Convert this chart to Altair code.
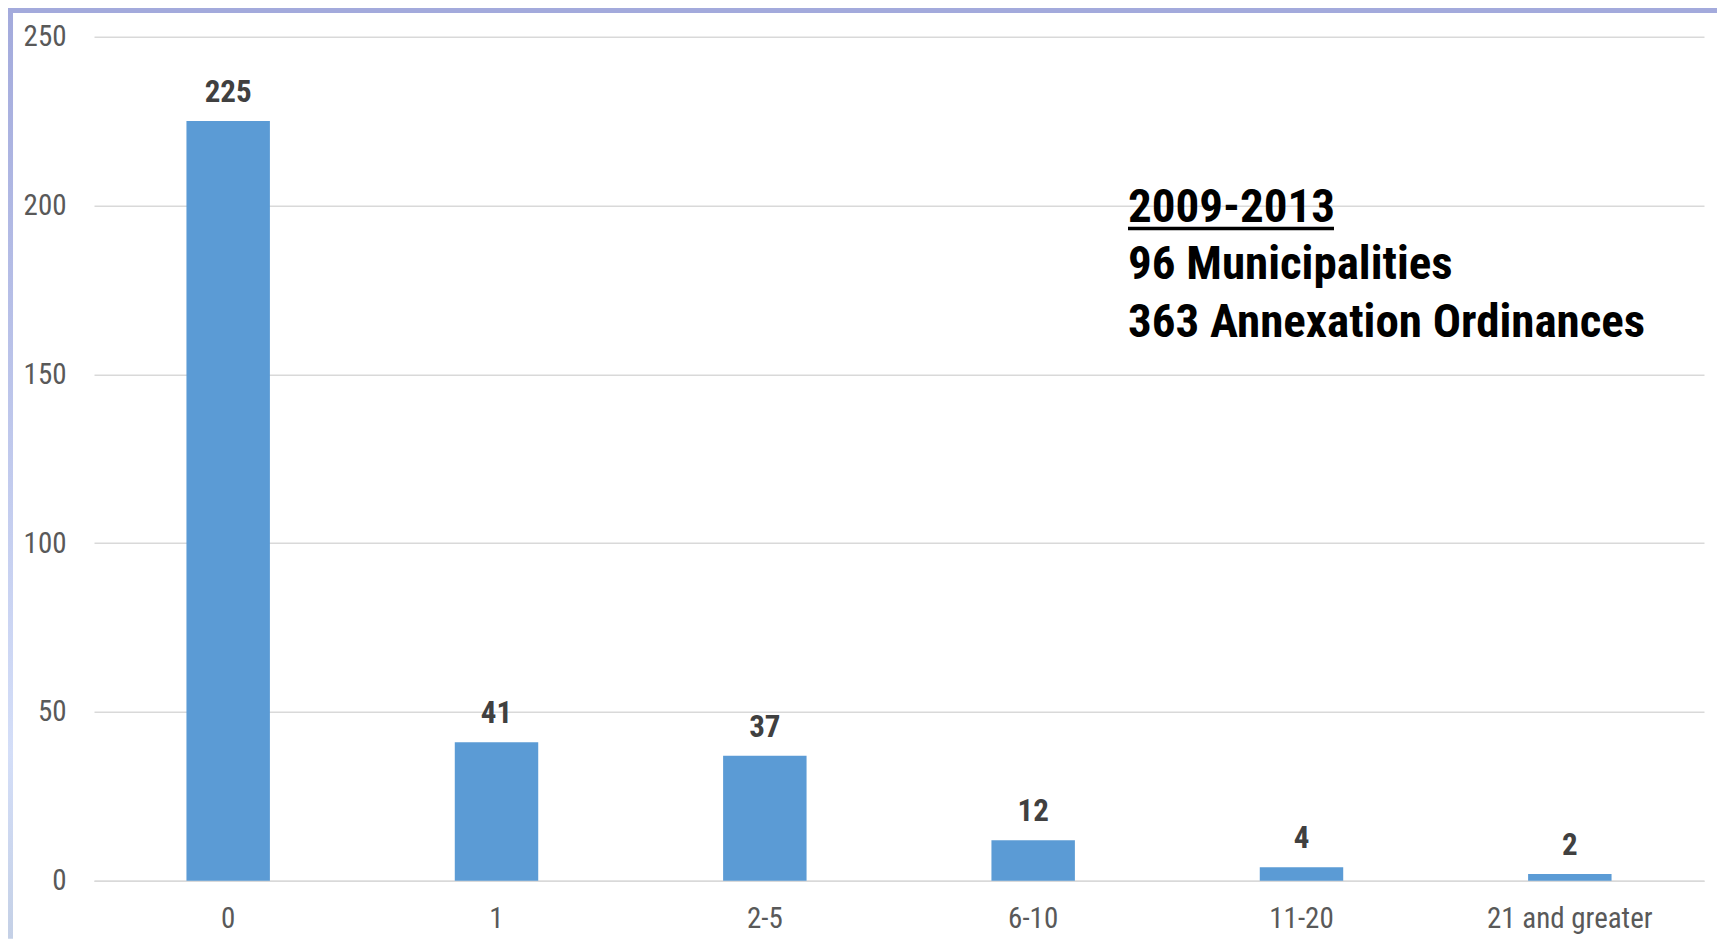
import altair as alt
import pandas as pd

categories = ["0", "1", "2-5", "6-10", "11-20", "21 and greater"]
counts = [225, 41, 37, 12, 4, 2]
y_ticks = [0, 50, 100, 150, 200, 250]
note_lines = ["2009-2013", "96 Municipalities", "363 Annexation Ordinances"]

FONT = "Roboto Condensed, Liberation Sans Narrow, DejaVu Sans Condensed, Roboto, sans-serif"
W, H = 1610, 844

df = pd.DataFrame({"cat": categories, "value": counts})

x_enc = alt.X(
    "cat:N", sort=categories, title=None,
    scale=alt.Scale(paddingInner=0.689, paddingOuter=0.3445),
    axis=alt.Axis(labelAngle=0, labelFontSize=29, labelColor="#595959", labelFont=FONT,
                  labelPadding=24, labelLimit=0, ticks=False, tickSize=0, domain=True,
                  domainColor="#d9d9d9", domainWidth=1.5, grid=False),
)
y_enc = alt.Y(
    "value:Q", title=None,
    scale=alt.Scale(domain=[0, 250], nice=False),
    axis=alt.Axis(values=y_ticks, labelFontSize=29, labelColor="#595959", labelFont=FONT,
                  labelPadding=28, ticks=False, tickSize=0, domain=False,
                  grid=True, gridColor="#d9d9d9", gridWidth=1.5),
)

base = alt.Chart(df)
bars = base.mark_bar(color="#5b9bd5").encode(x=x_enc, y=y_enc)
labels = base.mark_text(font=FONT, fontSize=31, fontWeight="bold", color="#404040",
                        baseline="alphabetic", dy=-19).encode(
    x=alt.X("cat:N", sort=categories), y="value:Q", text="value:Q")

one = pd.DataFrame({"k": [0]})
note = alt.Chart(one).mark_text(
    font=FONT, fontSize=47, fontWeight="bold", color="#000000", align="left",
    baseline="alphabetic", lineHeight=57.5,
    text="\n".join(note_lines), lineBreak="\n",
).encode(x=alt.value(1034), y=alt.value(185))
underline = alt.Chart(one).mark_rule(color="#000000", strokeWidth=3.5).encode(
    x=alt.value(1034), x2=alt.value(1240), y=alt.value(191.8))

top_stripe = alt.Chart(one).mark_rect(color="#a3aadc").encode(
    x=alt.value(-86), x2=alt.value(W + 13), y=alt.value(-28.7), y2=alt.value(-23.7))
left_stripe = alt.Chart(one).mark_rect(
    color=alt.Gradient(gradient="linear", x1=0, x2=0, y1=0, y2=1,
                       stops=[alt.GradientStop(color="#a3aadc", offset=0),
                              alt.GradientStop(color="#d4def8", offset=0.8),
                              alt.GradientStop(color="#c4d0e6", offset=1)])
).encode(x=alt.value(-86), x2=alt.value(-81), y=alt.value(-28.7), y2=alt.value(H + 58))

chart = alt.layer(top_stripe, left_stripe, bars, labels, note, underline).properties(
    width=W, height=H,
    autosize=alt.AutoSizeParams(type="none"),
    padding={"left": 86, "top": 28.7, "right": 13, "bottom": 58},
).configure(
    background="white",
    view=alt.ViewConfig(strokeWidth=0, stroke="transparent"),
)

chart.save("out.html", embed_options={"renderer": "svg", "actions": False})
